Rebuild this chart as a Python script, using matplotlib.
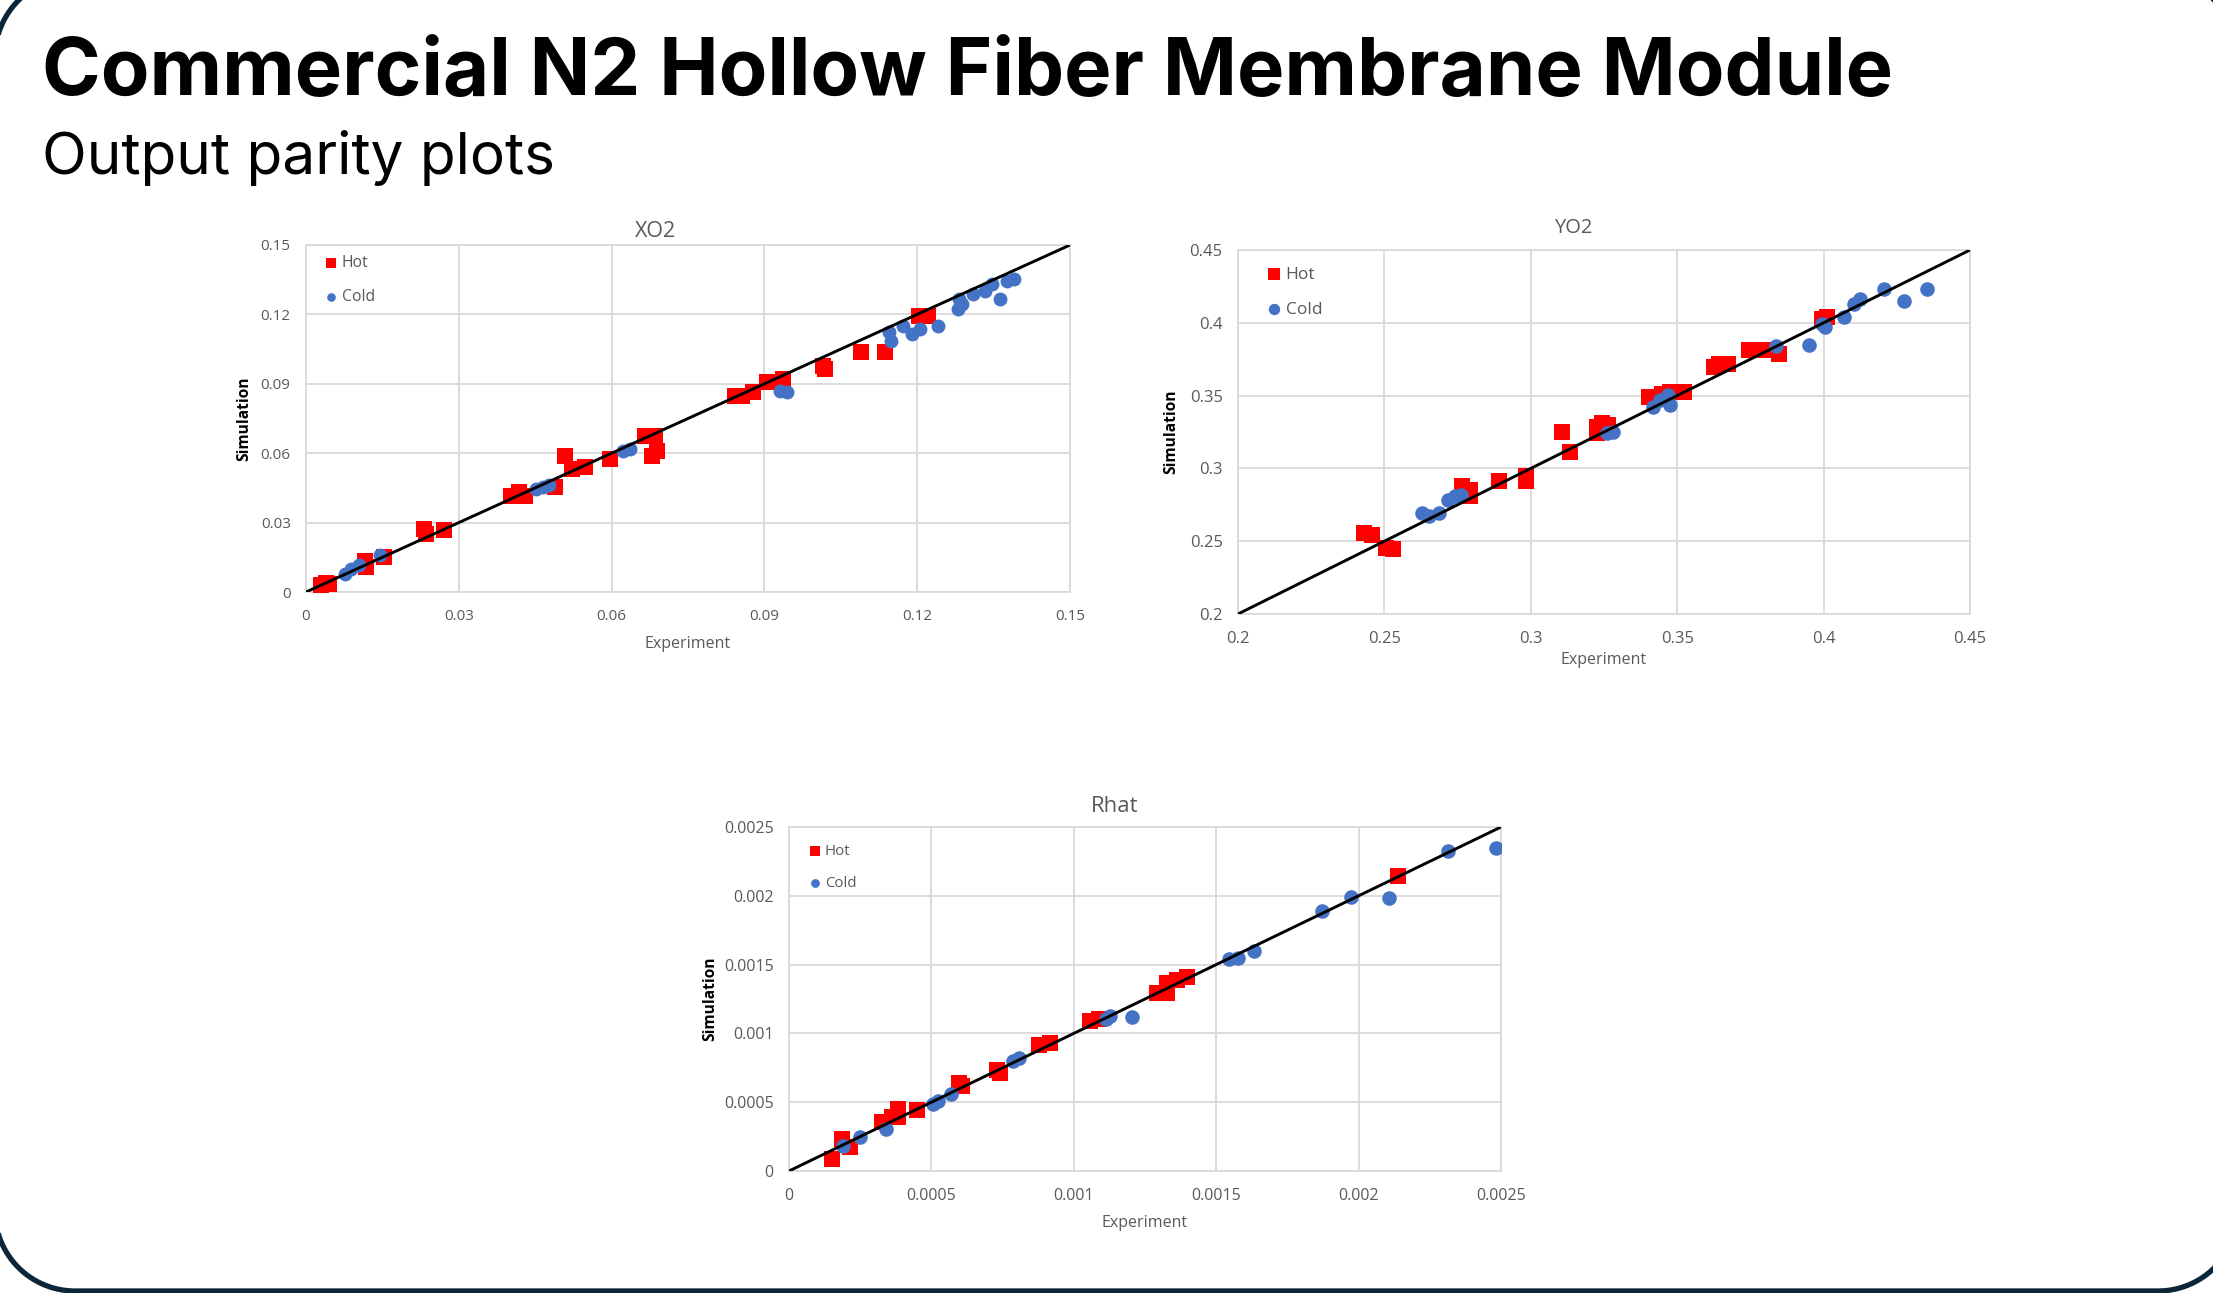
import numpy as np
import matplotlib.pyplot as plt

plt.rcParams['font.family'] = ['Open Sans', 'DejaVu Sans']

# XO2 panel
xo2_hot_exp = [0.0030, 0.0040, 0.0045, 0.0116, 0.0118, 0.0154, 0.0231, 0.0235, 0.0270,
               0.0402, 0.0419, 0.0430, 0.0488, 0.0509, 0.0523, 0.0547, 0.0596, 0.0666,
               0.0685, 0.0680, 0.0690, 0.0842, 0.0856, 0.0878, 0.0906, 0.0936, 0.1015,
               0.1019, 0.1090, 0.1137, 0.1204, 0.1222]
xo2_hot_sim = [0.0030, 0.0040, 0.0035, 0.0135, 0.0110, 0.0151, 0.0273, 0.0252, 0.0266,
               0.0417, 0.0431, 0.0417, 0.0453, 0.0590, 0.0532, 0.0539, 0.0575, 0.0676,
               0.0676, 0.0590, 0.0611, 0.0849, 0.0849, 0.0863, 0.0906, 0.0920, 0.0978,
               0.0964, 0.1036, 0.1036, 0.1194, 0.1194]
xo2_cold_exp = [0.0077, 0.0088, 0.0105, 0.0145, 0.0452, 0.0465, 0.0477, 0.0622, 0.0637,
                0.0931, 0.0944, 0.1145, 0.1149, 0.1173, 0.1189, 0.1206, 0.1241, 0.1281,
                0.1288, 0.1282, 0.1310, 0.1333, 0.1347, 0.1363, 0.1377, 0.1391]
xo2_cold_sim = [0.0079, 0.0101, 0.0115, 0.0161, 0.0446, 0.0453, 0.0463, 0.0608, 0.0618,
                0.0870, 0.0866, 0.1122, 0.1086, 0.1151, 0.1115, 0.1136, 0.1151, 0.1222,
                0.1244, 0.1266, 0.1287, 0.1302, 0.1330, 0.1266, 0.1345, 0.1352]
xo2_ticks = [0, 0.03, 0.06, 0.09, 0.12, 0.15]
xo2_labels = ['0', '0.03', '0.06', '0.09', '0.12', '0.15']

# YO2 panel
yo2_hot_exp = [0.2430, 0.2458, 0.2504, 0.2528, 0.2764, 0.2791, 0.2791, 0.2890, 0.2982,
               0.2982, 0.3106, 0.3134, 0.3227, 0.3242, 0.3227, 0.3264, 0.3403, 0.3449,
               0.3477, 0.3523, 0.3625, 0.3644, 0.3672, 0.3746, 0.3792, 0.3848, 0.3996,
               0.4011]
yo2_hot_sim = [0.2558, 0.2546, 0.2455, 0.2449, 0.2877, 0.2854, 0.2808, 0.2911, 0.2945,
               0.2911, 0.3252, 0.3116, 0.3286, 0.3309, 0.3241, 0.3298, 0.3491, 0.3514,
               0.3526, 0.3526, 0.3696, 0.3719, 0.3719, 0.3810, 0.3810, 0.3787, 0.4026,
               0.4038]
yo2_cold_exp = [0.2630, 0.2652, 0.2686, 0.2717, 0.2741, 0.2760, 0.3260, 0.3282, 0.3418,
                0.3440, 0.3468, 0.3477, 0.3838, 0.3950, 0.3996, 0.4005, 0.4070, 0.4103,
                0.4126, 0.4205, 0.4274, 0.4352]
yo2_cold_sim = [0.2694, 0.2672, 0.2694, 0.2786, 0.2808, 0.2820, 0.3241, 0.3252, 0.3423,
                0.3469, 0.3503, 0.3434, 0.3844, 0.3849, 0.3992, 0.3969, 0.4042, 0.4129,
                0.4163, 0.4231, 0.4152, 0.4231]
yo2_ticks = [0.2, 0.25, 0.3, 0.35, 0.4, 0.45]
yo2_labels = ['0.2', '0.25', '0.3', '0.35', '0.4', '0.45']

# Rhat panel
rhat_hot_exp = [0.000150, 0.000185, 0.000213, 0.000327, 0.000360, 0.000384, 0.000384,
                0.000451, 0.000597, 0.000609, 0.000732, 0.000740, 0.000879, 0.000917,
                0.001056, 0.001088, 0.001292, 0.001326, 0.001326, 0.001364, 0.001397,
                0.002140]
rhat_hot_sim = [0.000090, 0.000235, 0.000175, 0.000357, 0.000393, 0.000454, 0.000393,
                0.000442, 0.000636, 0.000617, 0.000733, 0.000714, 0.000915, 0.000927,
                0.001092, 0.001102, 0.001291, 0.001364, 0.001291, 0.001388, 0.001413,
                0.002141]
rhat_cold_exp = [0.000190, 0.000251, 0.000341, 0.000504, 0.000523, 0.000569, 0.000788,
                 0.000807, 0.001113, 0.001128, 0.001204, 0.001545, 0.001577, 0.001634,
                 0.001872, 0.001973, 0.002106, 0.002315, 0.002483]
rhat_cold_sim = [0.000180, 0.000248, 0.000308, 0.000490, 0.000510, 0.000563, 0.000799,
                 0.000818, 0.001102, 0.001126, 0.001121, 0.001539, 0.001546, 0.001600,
                 0.001891, 0.001990, 0.001983, 0.002328, 0.002347]
rhat_ticks = [0, 0.0005, 0.001, 0.0015, 0.002, 0.0025]
rhat_labels = ['0', '0.0005', '0.001', '0.0015', '0.002', '0.0025']

W, H = 2213, 1293
fig = plt.figure(figsize=(W / 100, H / 100), dpi=100)

# slide frame (rounded rectangle, mostly running off the page)
bg = fig.add_axes([0, 0, 1, 1], zorder=-5)
bg.set_xlim(0, W)
bg.set_ylim(H, 0)
bg.axis('off')
x0, y0, x1, y1, rr = -5, -23, 2238, 1291, 80
fx, fy = [], []
for cx, cy, a in ((x1 - rr, y0 + rr, -90), (x1 - rr, y1 - rr, 0),
                  (x0 + rr, y1 - rr, 90), (x0 + rr, y0 + rr, 180)):
    ang = np.radians(np.linspace(a, a + 90, 30))
    fx.extend(cx + rr * np.cos(ang))
    fy.extend(cy + rr * np.sin(ang))
fx.append(fx[0])
fy.append(fy[0])
bg.plot(fx, fy, color='#0b2638', lw=3.8, clip_on=False)

gray = '#595959'
grid_c = '#d9d9d9'


def panel(rect, title, hot_x, hot_y, cold_x, cold_y, ticks, labels,
          sq, ci, tsize, ttl, ysh, leg_xy, leg_size, leg_scale, leg_sp):
    ax = fig.add_axes(rect)
    ax.scatter(hot_x, hot_y, s=sq, marker='s', color='#ff0000', linewidths=0,
               label='Hot', zorder=3)
    ax.scatter(cold_x, cold_y, s=ci, marker='o', color='#4472c4', linewidths=0,
               label='Cold', zorder=4)
    lo, hi = ticks[0], ticks[-1]
    ax.plot([lo, hi], [lo, hi], color='black', lw=2.1, zorder=5, solid_capstyle='butt')
    ax.set_xlim(lo, hi)
    ax.set_ylim(lo, hi)
    ax.set_xticks(ticks)
    ax.set_xticklabels(labels)
    ax.set_yticks(ticks)
    ax.set_yticklabels(labels)
    ax.tick_params(length=0, labelsize=tsize, labelcolor=gray)
    ax.tick_params(axis='y', pad=11)
    ax.tick_params(axis='x', pad=12)
    ax.grid(True, color=grid_c, lw=1.3)
    ax.set_axisbelow(True)
    for s in ax.spines.values():
        s.set_color(grid_c)
        s.set_linewidth(1.3)
    ax.set_title(title, x=0.458, fontsize=ttl[0], color=gray, pad=ttl[1])
    ax.set_xlabel('Experiment', fontsize=11.5, color=gray)
    ax.xaxis.set_label_coords(0.5, -ysh[0])
    ax.xaxis.label.set_va('baseline')
    ax.set_ylabel('Simulation', fontsize=11.2, fontweight='bold', color='black')
    ax.yaxis.set_label_coords(-ysh[1], 0.5)
    ax.yaxis.label.set_va('center')
    ax.legend(loc='upper left', bbox_to_anchor=leg_xy, frameon=False, fontsize=leg_size,
              markerscale=leg_scale, handlelength=0.8, handletextpad=0.25,
              borderpad=0, borderaxespad=0, labelspacing=leg_sp, labelcolor=gray)
    return ax


ax1 = panel([306 / W, 1 - 592 / H, 764 / W, 347 / H], 'XO2',
            xo2_hot_exp, xo2_hot_sim, xo2_cold_exp, xo2_cold_sim, xo2_ticks, xo2_labels,
            135, 100, 11, (15.5, 6), (56 / 347, 62 / 764), (0.025, 0.97), 11.3, 0.62, 1.1)
ax2 = panel([1238 / W, 1 - 614 / H, 732 / W, 364 / H], 'YO2',
            yo2_hot_exp, yo2_hot_sim, yo2_cold_exp, yo2_cold_sim, yo2_ticks, yo2_labels,
            117, 110, 12, (14.5, 12), (50 / 364, 67 / 732), (0.04, 0.955), 12.5, 0.78, 1.1)
ax3 = panel([789 / W, 1 - 1171 / H, 712 / W, 344 / H], 'Rhat',
            rhat_hot_exp, rhat_hot_sim, rhat_cold_exp, rhat_cold_sim, rhat_ticks, rhat_labels,
            145, 110, 11.5, (16, 11), (56 / 344, 79 / 712), (0.028, 0.95), 10.8, 0.6, 1.1)

# slide heading
t1 = fig.text(42 / W, 1 - 95 / H, 'Commercial N2 Hollow Fiber Membrane Module',
              fontsize=60, fontweight='bold', family=['Inter', 'DejaVu Sans'],
              ha='left', va='baseline', color='black')
t2 = fig.text(42 / W, 1 - 174 / H, 'Output parity plots',
              fontsize=40, family=['Inter', 'DejaVu Sans'],
              ha='left', va='baseline', color='black')
fig.canvas.draw()
r = fig.canvas.get_renderer()
for t, target in ((t1, 1851), (t2, 513)):
    w = t.get_window_extent(r).width
    t.set_fontsize(t.get_fontsize() * target / w)

fig.savefig('out.png', dpi=100)
